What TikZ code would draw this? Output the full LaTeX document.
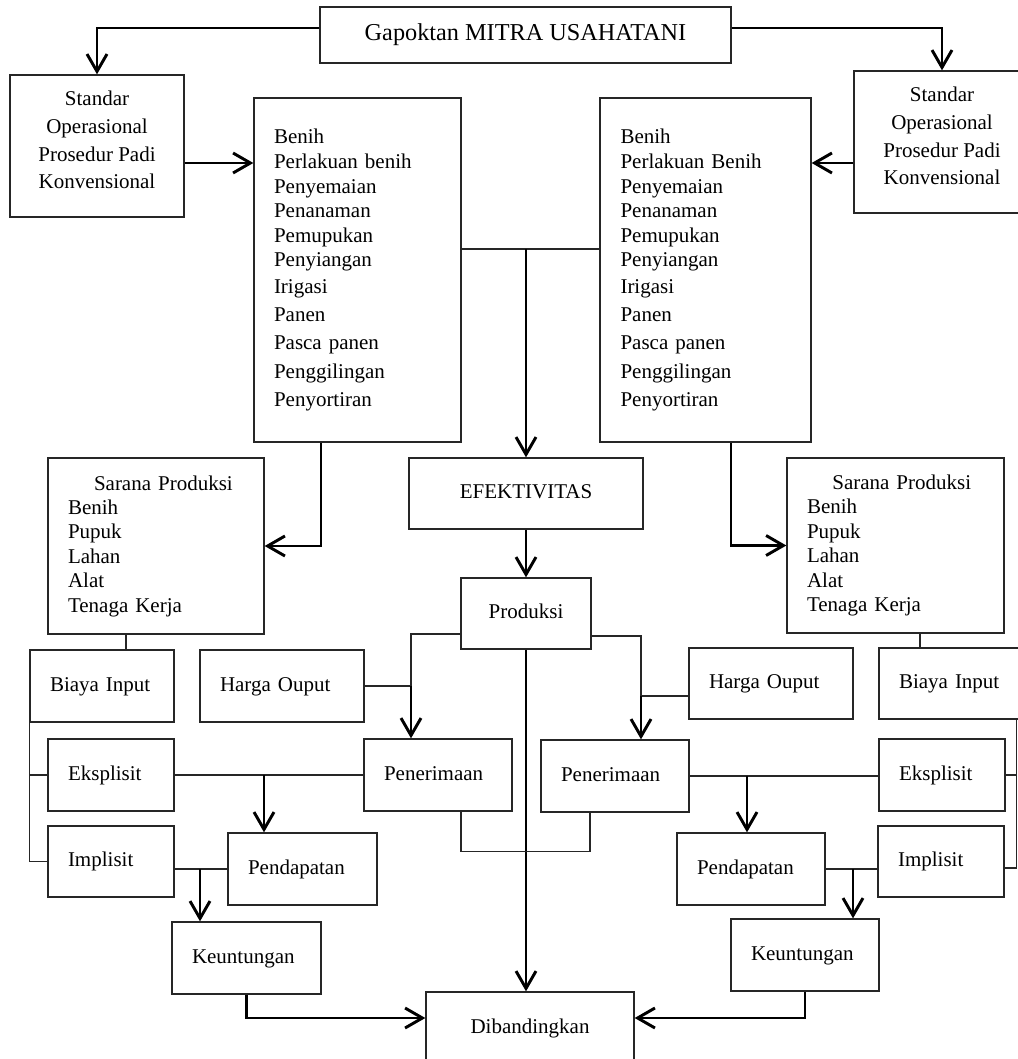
\documentclass[tikz,border=0pt]{standalone}
\usepackage{fontspec}
\setmainfont{Liberation Serif}
\usetikzlibrary{arrows.meta,calc}
\begin{document}
\begin{tikzpicture}[x=0.75pt,y=-0.75pt,
  bx/.style={draw=black!85, line width=1pt, inner sep=0pt,
    font=\fontsize{15.75}{18.45}\selectfont},
  sz/.style 2 args={minimum width=#1, minimum height=#2},
  cen/.style={align=center},
  one/.style={align=left, text height=11pt, text depth=3.5pt},
  sop/.style={align=center, font=\fontsize{15.75}{20.8}\selectfont, text depth=9pt},
  ln/.style={draw=black!85, line width=1pt},
  arr/.style={line width=2.2pt, -{Straight Barb[length=13pt,width=15pt]}}]
\useasboundingbox (0,0) rectangle (1017,1059);

% top
\node[bx, cen, sz={308.25pt}{42pt}, font=\fontsize{18.2}{22}\selectfont] (gap) at (525.5,35) {Gapoktan MITRA USAHATANI};
\node[bx, sop, sz={130.5pt}{106.5pt}] (sopL) at (97,146) {Standar\\Operasional\\Prosedur Padi\\Konvensional};
\node[bx, sop, sz={132pt}{106.5pt}] (sopR) at (942,142) {Standar\\Operasional\\Prosedur Padi\\Konvensional};

% lists
\node[bx, align=left, sz={155.25pt}{258pt}, text width=125.25pt] (listL) at (357.5,270)
 {Benih\\Perlakuan benih\\Penyemaian\\Penanaman\\Pemupukan\\Penyiangan\\[1.8pt]Irigasi\\[2.5pt]Panen\\[2.5pt]Pasca panen\\[3pt]Penggilingan\\[2.5pt]Penyortiran};
\node[bx, align=left, sz={158.25pt}{258pt}, text width=127.5pt] (listR) at (705.5,270)
 {Benih\\Perlakuan Benih\\Penyemaian\\Penanaman\\Pemupukan\\Penyiangan\\[1.8pt]Irigasi\\[2.5pt]Panen\\[2.5pt]Pasca panen\\[3pt]Penggilingan\\[2.5pt]Penyortiran};

% sarana
\node[bx, align=left, sz={162pt}{132pt}, text width=132pt, font=\fontsize{15.75}{18.3}\selectfont] (sarL) at (156,546)
 {\hspace*{19.5pt}Sarana Produksi\\Benih\\Pupuk\\Lahan\\Alat\\Tenaga Kerja};
\node[bx, align=left, sz={162.75pt}{131.25pt}, text width=132.75pt, font=\fontsize{15.75}{18.3}\selectfont] (sarR) at (895.5,545.5)
 {\hspace*{19pt}Sarana Produksi\\Benih\\Pupuk\\Lahan\\Alat\\Tenaga Kerja};

% centre column
\node[bx, cen, sz={175.5pt}{53.25pt}, text height=11pt, text depth=3.5pt] (efek) at (526,493.5) {EFEKTIVITAS};
\node[bx, cen, sz={97.5pt}{53.25pt}, text height=11pt, text depth=3.5pt] (prod) at (526,613.5) {Produksi};
\node[bx, cen, sz={156pt}{54pt}, text height=11pt, text depth=3.5pt] (dib) at (530,1028) {Dibandingkan};

% second level
\node[bx, one, sz={108pt}{54pt}, text width=78pt] (biayaL) at (102,686) {Biaya Input};
\node[bx, one, sz={123pt}{54pt}, text width=93pt] (hargaL) at (282,686) {Harga Ouput};
\node[bx, one, sz={123pt}{53.25pt}, text width=93pt] (hargaR) at (771,683.5) {Harga Ouput};
\node[bx, one, sz={108pt}{53.25pt}, text width=78pt] (biayaR) at (951,683.5) {Biaya Input};

\node[bx, one, sz={94.5pt}{54pt}, text width=64.5pt] (eksL) at (111,775) {Eksplisit};
\node[bx, one, sz={94.5pt}{53.25pt}, text width=64.5pt] (impL) at (111,861.5) {Implisit};
\node[bx, one, sz={111pt}{54pt}, text width=81pt] (penL) at (438,775) {Penerimaan};
\node[bx, one, sz={111pt}{54pt}, text width=81pt] (penR) at (615,776) {Penerimaan};
\node[bx, one, sz={94.5pt}{54pt}, text width=64.5pt] (eksR) at (942,775) {Eksplisit};
\node[bx, one, sz={94.5pt}{53.25pt}, text width=64.5pt] (impR) at (941,861.5) {Implisit};

\node[bx, one, sz={111.75pt}{54pt}, text width=81.75pt] (pendL) at (302.5,869) {Pendapatan};
\node[bx, one, sz={111pt}{54pt}, text width=81pt] (pendR) at (751,869) {Pendapatan};
\node[bx, one, sz={111.75pt}{54pt}, text width=81.75pt] (keuL) at (246.5,958) {Keuntungan};
\node[bx, one, sz={111pt}{54pt}, text width=81pt] (keuR) at (805,955) {Keuntungan};

% connectors: top
\draw[arr] ([yshift=5.25pt]gap.west) -| (sopL.north);
\draw[arr] ([yshift=5.25pt]gap.east) -| (sopR.north);
\coordinate (sL) at ([yshift=-12.75pt]sopL.east);
\draw[arr] (sL) -- (sL -| listL.west);
\coordinate (sR) at ([yshift=-15.75pt]sopR.west);
\draw[arr] (sR) -- (sR -| listR.east);

\coordinate (mid) at ([yshift=15.75pt]listL.east);
\draw[ln] (mid) -- (mid -| listR.west);
\draw[arr] (mid -| efek.north) -- (efek.north);

\coordinate (lLs) at ([xshift=-27.375pt]listL.south);
\draw[arr] (lLs) |- (sarL.east);
\coordinate (lRs) at ([xshift=19.125pt]listR.south);
\draw[arr] (lRs) |- (sarR.west);

\draw[arr] (efek.south) -- (efek.south |- prod.north);
\draw[arr] (prod.south) -- (prod.south |- dib.north);

\coordinate (sLs) at ([xshift=-22.5pt]sarL.south);
\draw[ln] (sLs) -- (sLs |- biayaL.north);
\coordinate (sRs) at ([xshift=18.375pt]sarR.south);
\draw[ln] (sRs) -- (sRs |- biayaR.north);

% produksi to penerimaan
\coordinate (pW) at ([yshift=-15.375pt]prod.west);
\coordinate (pLn) at ([xshift=-20.25pt]penL.north);
\coordinate (jL) at (pLn |- hargaL.east);
\draw[ln] (pW) -| (jL);
\draw[ln] (hargaL.east) -- (jL);
\draw[arr] (jL) -- (pLn);

\coordinate (pE) at ([yshift=-16.875pt]prod.east);
\coordinate (pRn) at ([xshift=19.5pt]penR.north);
\coordinate (hRw) at ([yshift=-9.375pt]hargaR.west);
\coordinate (jR) at (pRn |- hRw);
\draw[ln] (pE) -| (jR);
\draw[ln] (hRw) -- (jR);
\draw[arr] (jR) -- (pRn);

% biaya input columns
\draw[ln] (biayaL.south west) |- (impL.west);
\draw[ln] (biayaL.south west |- eksL.west) -- (eksL.west);
\coordinate (bRc) at ([xshift=-5.25pt]biayaR.south east);
\coordinate (iRe) at ([yshift=-4.875pt]impR.east);
\draw[ln] (bRc) |- (iRe);
\draw[ln] (bRc |- eksR.east) -- (eksR.east);

% eksplisit / penerimaan -> pendapatan
\draw[ln] (eksL.east) -- (penL.west);
\coordinate (pdLn) at ([xshift=-28.875pt]pendL.north);
\draw[arr] (pdLn |- eksL.east) -- (pdLn);
\draw[ln] (penR.east) -- (penR.east -| eksR.west);
\coordinate (pdRn) at ([xshift=-3pt]pendR.north);
\draw[arr] (pdRn |- penR.east) -- (pdRn);

% implisit / pendapatan -> keuntungan
\draw[ln] (pendL.west -| impL.east) -- (pendL.west);
\coordinate (kLn) at ([xshift=-34.875pt]keuL.north);
\draw[arr] (kLn |- pendL.west) -- (kLn);
\draw[ln] (pendR.east) -- (pendR.east -| impR.west);
\coordinate (kRn) at ([xshift=36pt]keuR.north);
\draw[arr] (kRn |- pendR.east) -- (kRn);

% penerimaan U link
\coordinate (uL) at ([xshift=17.25pt]penL.south);
\coordinate (uR) at ([xshift=-18.75pt]penR.south);
\draw[ln] (uL) -- ++(0,40) -| (uR);

% keuntungan -> dibandingkan
\coordinate (dW) at ([yshift=7.5pt]dib.west);
\draw[arr] (keuL.south) |- (dW);
\coordinate (dE) at ([yshift=7.5pt]dib.east);
\draw[arr] (keuR.south) |- (dE);
\end{tikzpicture}
\end{document}
